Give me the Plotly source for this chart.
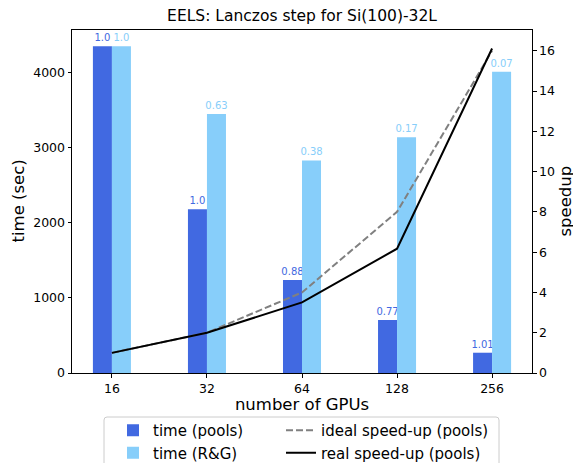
import plotly.graph_objects as go

# Wall time of one Lanczos step (seconds) on 16..256 GPUs
gpus = [16, 32, 64, 128, 256]
time_pools = [4350, 2180, 1240, 705, 270]
time_rg = [4350, 3450, 2830, 3140, 4010]
ideal_speedup = [1, 2, 4, 8, 16]

x = list(range(len(gpus)))
real_speedup = [time_pools[0] / t for t in time_pools]

# parallel efficiency printed on top of each bar
eff_pools = [str(round(time_pools[0] / t / s, 2)) for t, s in zip(time_pools, ideal_speedup)]
eff_rg = [str(round(time_rg[0] / t / s, 2)) for t, s in zip(time_rg, ideal_speedup)]

BLUE = "#4169E1"
LIGHT = "#87CEFA"
FONT = "DejaVu Sans"

W, H = 573, 463
PLOT_L, PLOT_R, PLOT_T, PLOT_B = 72, 532, 30, 373
plot_w = PLOT_R - PLOT_L
plot_h = PLOT_B - PLOT_T


def px_x(px):
    return (px - PLOT_L) / plot_w


def px_y(py):
    return (PLOT_B - py) / plot_h


fig = go.Figure()
fig.add_trace(go.Bar(
    x=x, y=time_pools, width=0.2, offset=-0.2, name="time (pools)",
    marker=dict(color=BLUE, line=dict(width=0)),
    text=eff_pools, textposition="outside", textangle=0, constraintext="none",
    outsidetextfont=dict(color=BLUE, size=10, family=FONT),
    cliponaxis=False, legend="legend",
))
fig.add_trace(go.Bar(
    x=x, y=time_rg, width=0.2, offset=0.0, name="time (R&G)",
    marker=dict(color=LIGHT, line=dict(width=0)),
    text=eff_rg, textposition="outside", textangle=0, constraintext="none",
    outsidetextfont=dict(color=LIGHT, size=10, family=FONT),
    cliponaxis=False, legend="legend",
))
fig.add_trace(go.Scatter(
    x=x, y=ideal_speedup, yaxis="y2", mode="lines", name="ideal speed-up (pools)",
    line=dict(color="#808080", width=2, dash="7px,3px"), legend="legend2",
))
fig.add_trace(go.Scatter(
    x=x, y=real_speedup, yaxis="y2", mode="lines", name="real speed-up (pools)",
    line=dict(color="black", width=2), legend="legend2",
))

axis_common = dict(
    showgrid=False, zeroline=False, showline=True, linecolor="black", linewidth=1,
    ticks="outside", ticklen=3.5, tickwidth=1, tickcolor="black",
    tickfont=dict(family=FONT, size=12.5, color="black"),
)

legend_common = dict(
    orientation="v", yanchor="top", xanchor="left", borderwidth=0,
    bgcolor="rgba(0,0,0,0)", font=dict(family=FONT, size=15, color="black"),
    itemwidth=30, traceorder="normal",
)

fig.update_layout(
    width=W, height=H,
    margin=dict(l=PLOT_L, r=W - PLOT_R, t=PLOT_T, b=H - PLOT_B, autoexpand=False),
    paper_bgcolor="white", plot_bgcolor="white",
    font=dict(family=FONT, color="black"),
    barmode="overlay",
    title=dict(text="EELS: Lanczos step for Si(100)-32L", x=0.5, xref="paper",
               xanchor="center", y=1 - 16 / H, yref="container", yanchor="middle",
               font=dict(family=FONT, size=15.5, color="black")),
    xaxis=dict(range=[-0.42, 4.42], tickvals=x, ticktext=[str(g) for g in gpus],
               mirror=True,
               title=dict(text="number of GPUs", standoff=2,
                          font=dict(family=FONT, size=16.5, color="black")),
               **axis_common),
    yaxis=dict(range=[0, 4567.5], tickvals=[0, 1000, 2000, 3000, 4000], **axis_common),
    yaxis2=dict(range=[0, 17.03], tickvals=list(range(0, 17, 2)), overlaying="y",
                side="right", **axis_common),
    legend=dict(x=113 / W, xref="container", y=px_y(414), **legend_common),
    legend2=dict(x=281 / W, xref="container", y=px_y(414), **legend_common),
    showlegend=True,
)

# shared frame around both legend columns (rounded corners)
x0, x1, y0, y1, r = 104, 499, 417, 480, 3
frame = (
    f"M {px_x(x0 + r)},{px_y(y0)} L {px_x(x1 - r)},{px_y(y0)} "
    f"Q {px_x(x1)},{px_y(y0)} {px_x(x1)},{px_y(y0 + r)} "
    f"L {px_x(x1)},{px_y(y1)} L {px_x(x0)},{px_y(y1)} "
    f"L {px_x(x0)},{px_y(y0 + r)} Q {px_x(x0)},{px_y(y0)} {px_x(x0 + r)},{px_y(y0)} Z"
)
fig.add_shape(type="path", path=frame, xref="paper", yref="paper",
              line=dict(color="#cccccc", width=1), fillcolor="rgba(0,0,0,0)",
              layer="below")

# vertical axis titles
fig.add_annotation(text="time (sec)", textangle=-90, showarrow=False,
                   xref="paper", yref="paper", x=px_x(18), y=0.5,
                   xanchor="center", yanchor="middle",
                   font=dict(family=FONT, size=16.5, color="black"))
fig.add_annotation(text="speedup", textangle=-90, showarrow=False,
                   xref="paper", yref="paper", x=px_x(565), y=0.5,
                   xanchor="center", yanchor="middle",
                   font=dict(family=FONT, size=16.5, color="black"))

fig.write_html("out.html")
